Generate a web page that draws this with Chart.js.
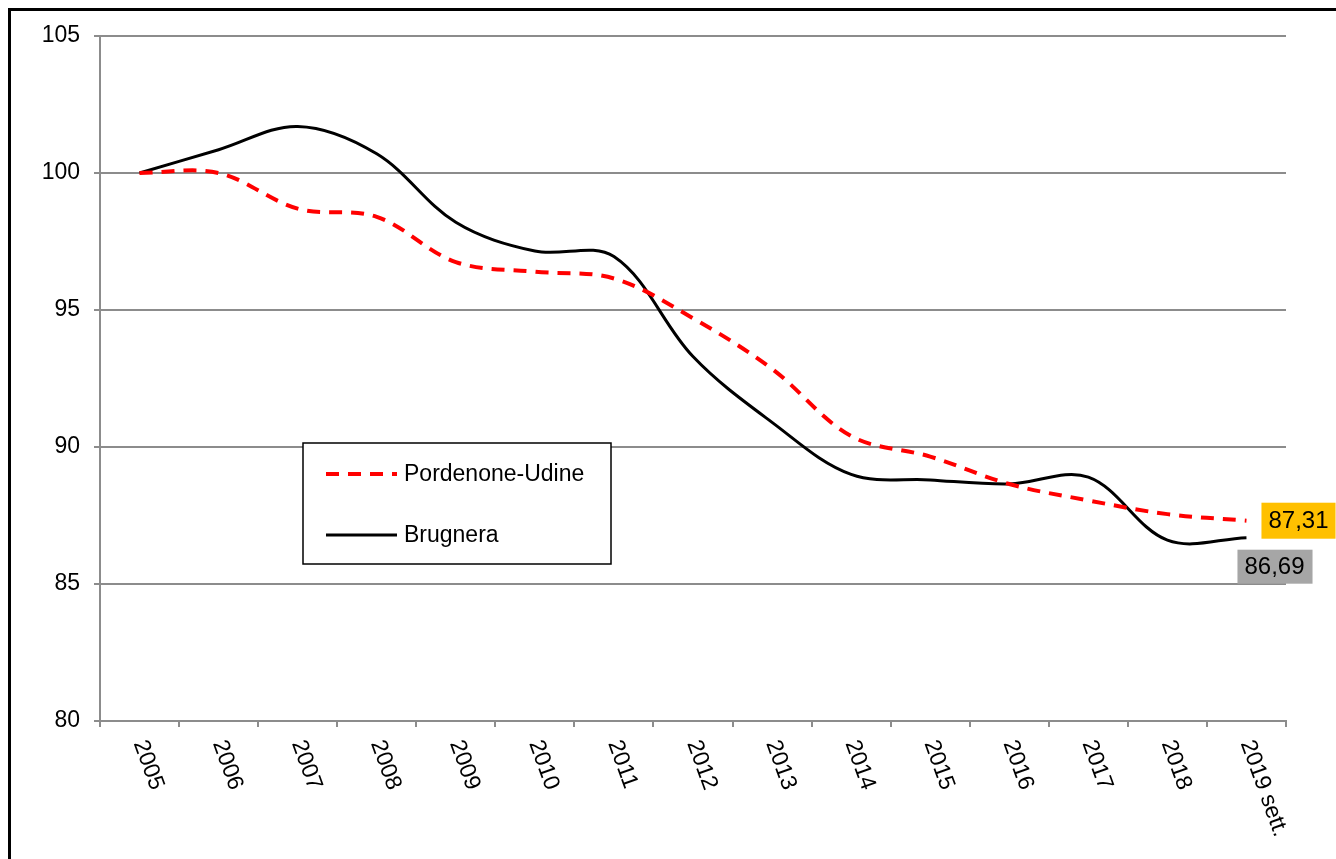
<!DOCTYPE html>
<html>
<head>
<meta charset="utf-8">
<script src="https://cdn.jsdelivr.net/npm/chart.js@4"></script>
<style>
  html, body { margin: 0; padding: 0; background: #fff; overflow: hidden; }
  #wrap { position: relative; width: 1336px; height: 859px; }
  #frame { position: absolute; left: 8px; top: 8px; width: 2000px; height: 2000px;
           border-top: 3px solid #000; border-left: 3px solid #000; pointer-events: none; }
  canvas { position: absolute; left: 0; top: 0; }
</style>
</head>
<body>
<div id="wrap">
  <canvas id="c" width="1336" height="859"></canvas>
  <div id="frame"></div>
</div>
<script>
const categories = ['2005','2006','2007','2008','2009','2010','2011','2012','2013','2014','2015','2016','2017','2018','2019 sett.'];
const pordenoneUdine = [100, 100.0, 98.7, 98.4, 96.75, 96.4, 96.15, 94.7, 92.85, 90.4, 89.65, 88.65, 88.05, 87.55, 87.31];
const brugnera = [100, 100.85, 101.7, 100.7, 98.2, 97.15, 96.95, 93.3, 90.9, 89.0, 88.8, 88.65, 88.9, 86.6, 86.69];
const yTicks = [80, 85, 90, 95, 100, 105];
const seriesNames = ['Pordenone-Udine', 'Brugnera'];
const endLabels = ['87,31', '86,69'];

const FONT = '"Liberation Sans", Arial, sans-serif';
const GRID = '#8c8c8c';

const customDraw = {
  id: 'customDraw',
  afterDraw(chart) {
    const ctx = chart.ctx;
    const xs = chart.scales.x;
    const area = chart.chartArea;
    ctx.save();
    // rotated x labels
    ctx.fillStyle = '#000';
    ctx.font = '23px ' + FONT;
    ctx.textAlign = 'left';
    ctx.textBaseline = 'middle';
    categories.forEach((lab, i) => {
      const px = xs.getPixelForValue(i);
      ctx.save();
      ctx.translate(px, area.bottom + 20);
      ctx.rotate(70 * Math.PI / 180);
      ctx.fillText(lab, 0, 0);
      ctx.restore();
    });

    // legend box
    const lx = area.left + 203, ly = area.top + 407, lw = 308, lh = 121;
    ctx.fillStyle = '#fff';
    ctx.fillRect(lx, ly, lw, lh);
    ctx.strokeStyle = '#000';
    ctx.lineWidth = 1.5;
    ctx.strokeRect(lx, ly, lw, lh);
    const ds = chart.data.datasets;
    const rows = [ly + 31, ly + 92];
    ds.forEach((d, i) => {
      ctx.save();
      ctx.strokeStyle = d.borderColor;
      ctx.lineWidth = d.borderWidth;
      ctx.setLineDash(d.borderDash || []);
      ctx.beginPath();
      ctx.moveTo(lx + 23, rows[i]);
      ctx.lineTo(lx + 94, rows[i]);
      ctx.stroke();
      ctx.restore();
      ctx.fillStyle = '#000';
      ctx.font = '23px ' + FONT;
      ctx.textAlign = 'left';
      ctx.textBaseline = 'middle';
      ctx.fillText(seriesNames[i], lx + 101, rows[i] + 1);
    });

    // end value labels
    ctx.font = '24px ' + FONT;
    ctx.textBaseline = 'middle';
    ctx.textAlign = 'left';
    const last = categories.length - 1;
    const m0 = chart.getDatasetMeta(0).data[last];
    const m1 = chart.getDatasetMeta(1).data[last];
    let w0 = ctx.measureText(endLabels[0]).width + 14;
    let bx = m0.x + 15, by = m0.y - 18;
    ctx.fillStyle = '#FFC000';
    ctx.fillRect(bx, by, w0, 36);
    ctx.fillStyle = '#000';
    ctx.fillText(endLabels[0], bx + 7, by + 19);
    let w1 = ctx.measureText(endLabels[1]).width + 15;
    bx = m1.x - 9; by = m1.y + 12;
    ctx.fillStyle = '#A6A6A6';
    ctx.fillRect(bx, by, w1, 34);
    ctx.fillStyle = '#000';
    ctx.fillText(endLabels[1], bx + 7, by + 18);
    ctx.restore();
  }
};

new Chart(document.getElementById('c'), {
  type: 'line',
  data: {
    labels: categories,
    datasets: [
      {
        label: seriesNames[0],
        data: pordenoneUdine,
        borderColor: '#ff0000',
        borderWidth: 4,
        borderDash: [13, 9],
        pointRadius: 0,
        tension: 0.35,
        fill: false
      },
      {
        label: seriesNames[1],
        data: brugnera,
        borderColor: '#000000',
        borderWidth: 3,
        pointRadius: 0,
        tension: 0.35,
        fill: false
      }
    ]
  },
  options: {
    responsive: false,
    animation: false,
    devicePixelRatio: 1,
    layout: { padding: { top: 36, right: 50, left: 0, bottom: 0 } },
    plugins: {
      legend: { display: false },
      tooltip: { enabled: false },
      title: { display: false }
    },
    scales: {
      x: {
        type: 'category',
        offset: true,
        grid: { display: true, drawOnChartArea: false, drawTicks: true, tickLength: 6, color: GRID, lineWidth: 2, offset: true },
        border: { display: true, color: GRID, width: 2 },
        ticks: { display: false },
        afterFit(s) { s.height = 138; }
      },
      y: {
        min: 80,
        max: 105,
        afterBuildTicks(s) { s.ticks = yTicks.map(v => ({ value: v })); },
        grid: { color: GRID, lineWidth: 2, drawTicks: true, tickLength: 6 },
        border: { display: true, color: GRID, width: 2 },
        ticks: {
          color: '#000',
          font: { family: FONT, size: 23 },
          padding: 14
        },
        afterFit(s) { s.width = 100; }
      }
    }
  },
  plugins: [customDraw]
});
</script>
</body>
</html>
